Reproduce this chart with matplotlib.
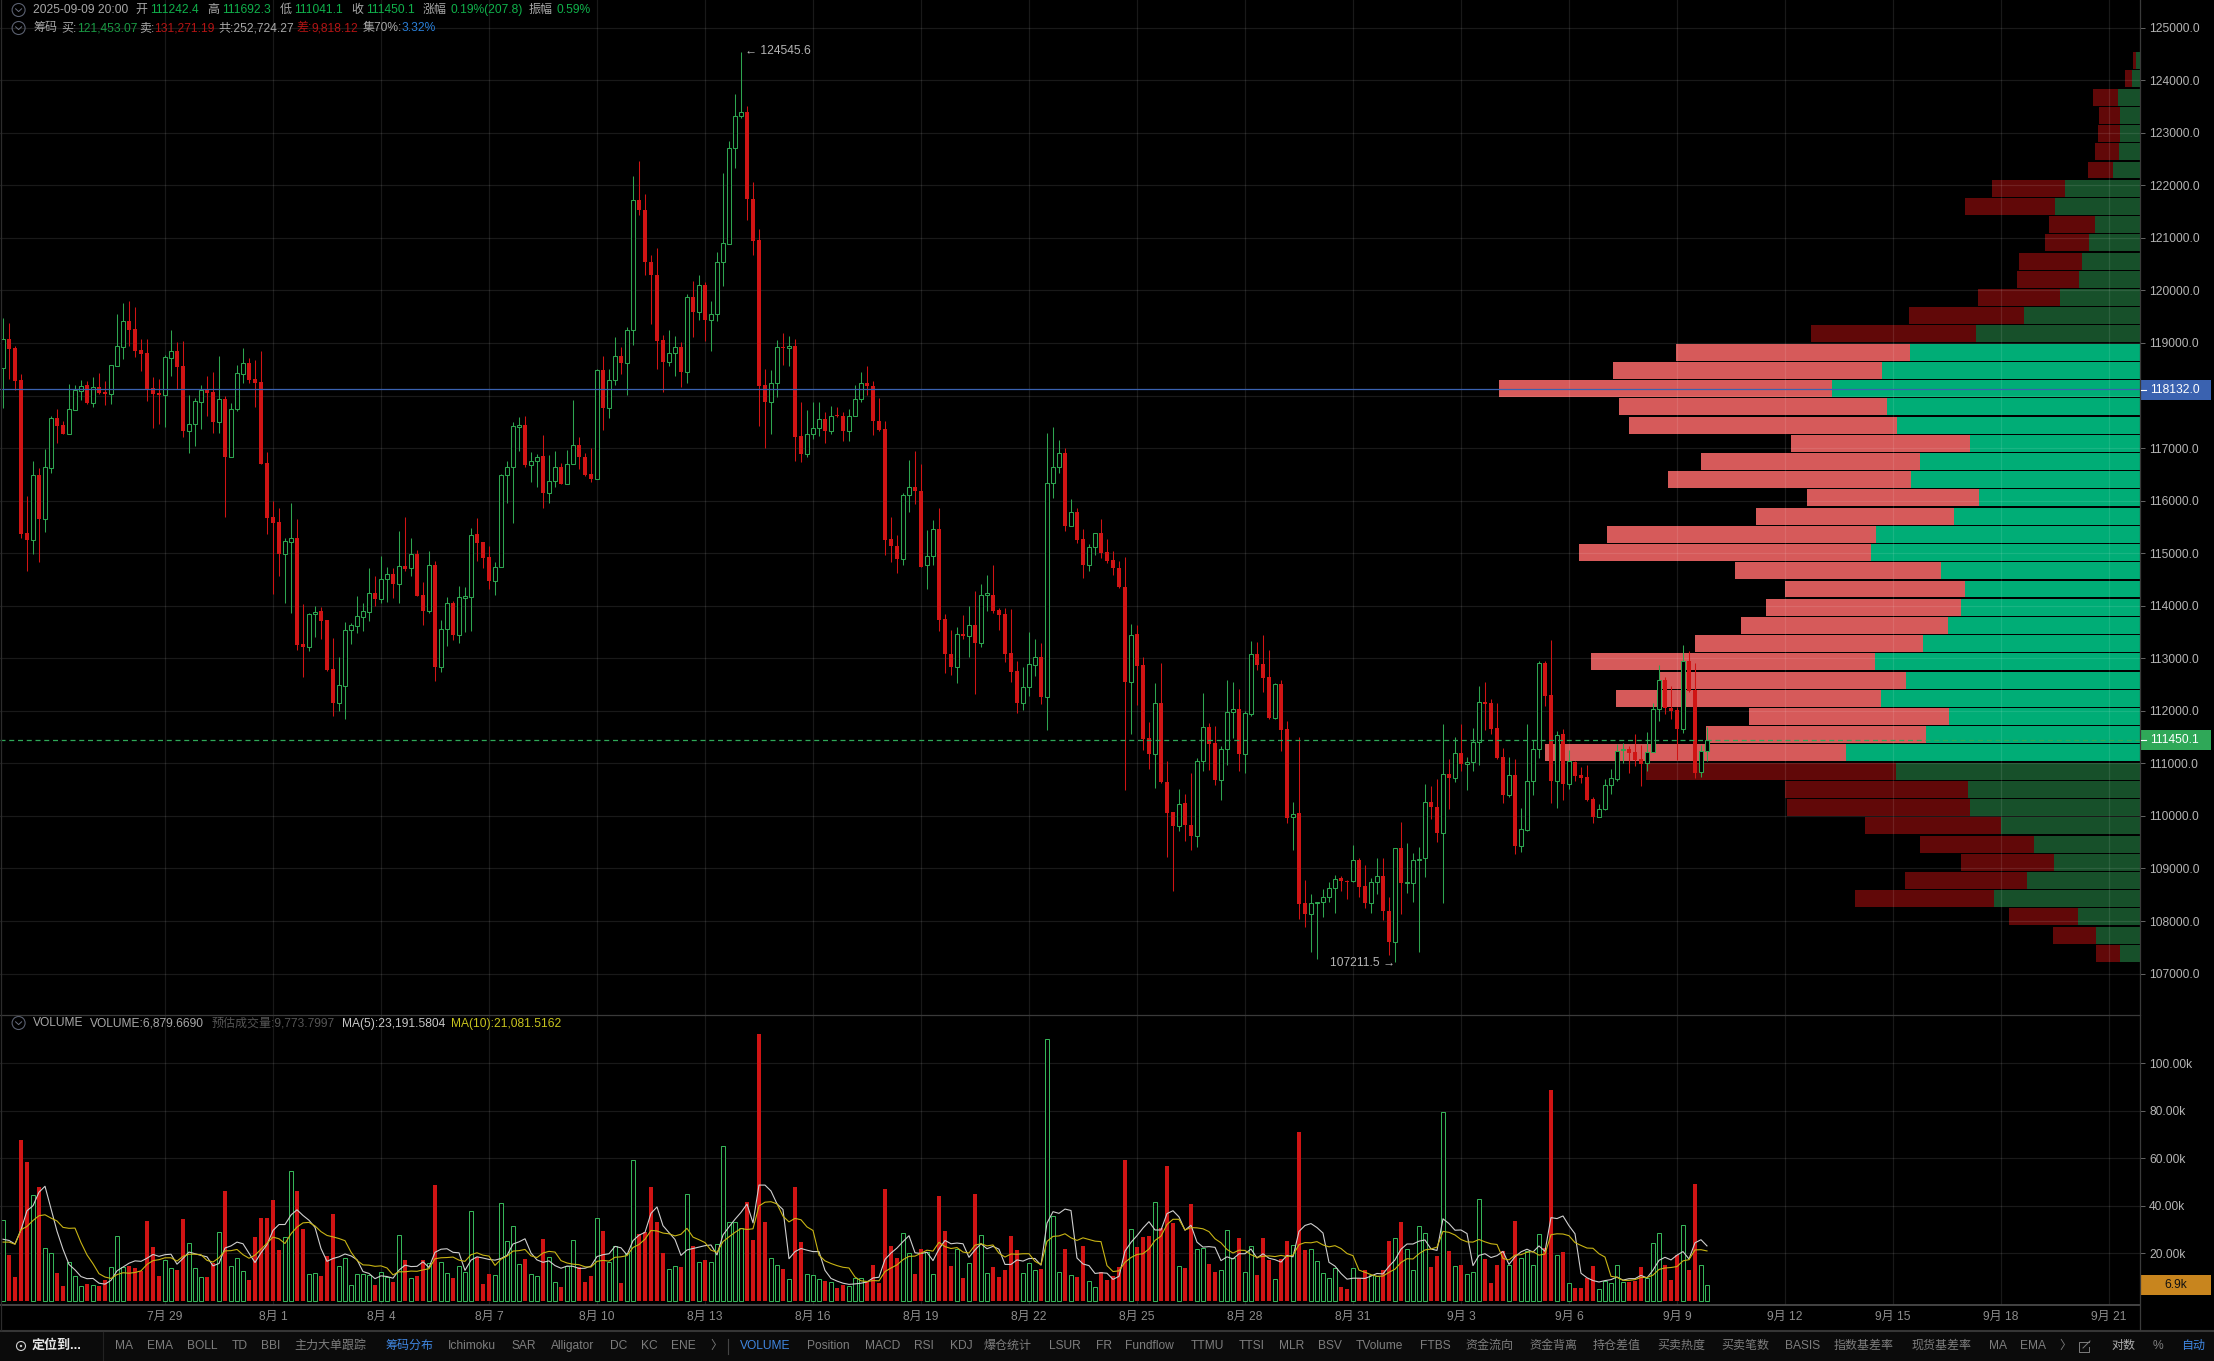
import numpy as np
import matplotlib
matplotlib.use("Agg")
import matplotlib.pyplot as plt
from matplotlib.patches import Rectangle, Circle

plt.rcParams['font.family'] = ['Liberation Sans', 'Noto Sans CJK SC', 'DejaVu Sans']
plt.rcParams['font.size'] = 8.64

direction = ("GRRRRGRGGRRGGGRGRRGG" "GRRRRRRGGRRGGGRRGRGG" "GRRRRRRGGRRGGRRRGGGG" "GGRGGRGRGRRGRGGRGGGR"
             "RRGGGGGRGGRGGRGGRRRG" "RGGRGGRRRRRGGRGRGRGG" "GGGGRRRRGGRGRRGGGRGR" "RGGGRRRRRRGGRRGGRRRG"
             "RGRGGRRRRRGGGRGGGRGR" "RGGRRRRRGRRRGRRRGRRG" "GRRGGGRGGRRRGRRGRRGG" "GGGRRGRRGGRRGRGGGGRR"
             "GRGRGGGRRRRGRGGGGRRG" "RGRRRRGGGGGRRRGGGRRR" "GRRGG")

high = [
119470,119375,118943,118410,116089,116755,116628,116983,117611,117738,
117516,118220,118201,118296,118277,118353,118429,118271,118582,119552,
119768,119806,119692,119083,119076,118353,118321,118765,119248,119019,
119045,118011,117947,118201,118372,118448,118753,117985,117858,118582,
118905,118721,118677,118848,116920,115987,115860,115283,115949,115651,
114034,113869,113996,113983,113729,113380,113019,113691,113672,114186,
114046,114719,114566,114953,114731,114712,115423,115683,115296,115061,
114459,115048,114852,113729,114167,114091,114376,114363,115480,115670,
115220,115144,114833,116500,116754,117497,117588,117604,116928,116886,
117249,116878,116944,116713,116961,117918,117208,116911,117010,118503,
118751,118503,119114,118924,119304,122175,122472,121836,120673,120805,
119155,119254,119130,119023,119939,120178,120285,120162,119807,120731,
122232,122843,123734,124545.6,123503,122059,121168,118512,118487,119048,
119188,119130,119081,117868,117728,117868,117868,117686,117802,117786,
117686,117744,118198,118446,118561,118281,117951,117513,115690,115352,
116136,116771,116944,116697,115443,115624,115863,113850,113537,113603,
113817,113990,114288,114420,114576,114783,113950,113965,113944,112945,
112843,113496,113360,113285,117283,117406,117147,116998,116025,115855,
115461,115175,115393,115651,115270,115039,114849,114924,113652,113632,
113033,111796,112537,112904,111054,110075,110510,110415,110823,111109,
112333,111768,111707,111326,112578,112557,112408,111993,113326,113312,
113441,113156,112523,112591,111802,110266,111503,108776,108511,108368,
108613,108736,108885,108851,108776,109443,109191,109069,108810,109191,
109191,108457,109382,109885,109484,109300,109416,110606,110572,110701,
111741,111082,111496,111741,111122,111673,112469,112550,112217,112149,
111285,111114,111082,110150,111742,111450,112953,112953,113346,111609,
111659,111254,111038,110930,110968,110366,110227,110702,110892,111361,
111380,111336,111558,111349,111590,112148,112877,112642,112465,112065,
113244,113137,112908,111349,111692.3]

body_top = [
119070,119070,118899,118296,115378,116482,116482,116634,117567,117567,
117433,117738,118106,118188,118195,118157,118157,118068,118575,118937,
119412,119412,119260,118867,118804,118144,118042,118727,118842,118842,
118556,117465,117890,118100,118100,118061,117928,117928,117751,118423,
118613,118613,118309,118252,116710,115683,115588,115226,115283,115283,
113272,113837,113888,113894,113723,112790,112486,113532,113628,113799,
113894,114237,114237,114503,114598,114598,114750,114757,114979,114979,
114199,114769,114769,113552,114046,114046,114160,114186,115353,115359,
115207,114922,114731,116482,116631,117414,117431,117439,116763,116837,
116845,116383,116631,116631,116705,117068,117068,116837,116498,118479,
118479,118305,118759,118759,119254,121713,121713,121539,120549,120285,
119048,118817,118932,118932,119881,119881,120096,120096,119543,120549,
120896,122719,123321,123404,123404,121746,120954,118198,118248,118916,
118932,118949,118949,117225,117274,117390,117546,117546,117620,117637,
117620,117620,117942,118248,118248,118190,117522,117357,115261,115146,
116103,116268,116268,116193,114939,115467,115467,113743,113083,113471,
113471,113628,113628,114213,114238,114213,113910,113842,113094,112754,
112462,112884,113033,113033,116331,116637,116902,116902,115780,115780,
115264,115114,115379,115379,115019,114862,114713,114366,113448,113455,
112863,111476,112142,112142,110653,110068,110232,110238,109837,111048,
111700,111700,111381,111265,111972,112027,112027,111952,113074,113074,
112884,112639,112503,112503,111646,110041,110048,108334,108334,108362,
108457,108634,108804,108810,108770,109171,109171,108661,108749,108865,
108865,108198,109382,109382,108736,109171,109184,110272,110272,110177,
110789,110789,111190,111190,111034,111401,112163,112163,112142,111666,
111114,110772,110778,109745,110670,111266,112902,112902,112293,111545,
111552,111038,111032,110778,110734,110315,110125,110582,110715,111241,
111266,111266,111209,111076,111222,112027,112579,112579,112052,112008,
112946,112946,112388,111241,111450.1]

body_bottom = [
118530,118890,118283,115365,115252,115258,115657,115657,116628,117427,
117275,117275,117732,118093,117852,117865,118055,118036,118036,118569,
118930,119248,118854,118797,118125,118036,118017,118017,118721,118550,
117332,117332,117465,117884,118055,117503,117503,116837,116837,117751,
118417,118302,118245,116704,115676,115581,114985,114985,115220,113260,
113215,113222,113837,113716,112784,112156,112156,112480,113532,113621,
113792,113888,114135,114135,114503,114421,114421,114706,114712,114192,
113907,113907,112841,112841,113552,113450,113450,114154,114173,115201,
114915,114471,114477,114741,116482,116631,117406,116680,116680,116754,
116144,116144,116383,116317,116317,116705,116837,116490,116408,116416,
117761,117761,118305,118627,118627,119254,121531,120541,120285,119040,
118635,118635,118817,118454,118454,119592,119592,119444,119444,119543,
120549,120888,122719,123313,121737,120945,118190,117876,117876,118248,
118908,118908,117216,116886,116886,117274,117381,117332,117324,117604,
117332,117332,117620,117942,118190,117522,117348,115253,115137,114898,
114898,116103,116185,114741,114766,114939,113735,113075,112827,112827,
113421,113430,113289,113298,114213,113908,113830,113088,112748,112156,
112156,112462,112877,112272,112272,116331,116637,115522,115522,115257,
114781,114781,115114,115005,114849,114713,114359,112557,112557,112856,
111469,111184,111184,110653,110062,109810,109810,109824,109620,109620,
111048,111374,110687,110687,111265,111972,111184,111184,111945,112877,
112632,111857,111857,111639,109966,109973,108328,108137,108137,108334,
108362,108457,108634,108763,108749,108756,108654,108341,108348,108749,
108192,107607,107607,108715,108715,108729,109164,109191,110177,109681,
109681,110728,110728,110993,110993,111034,111401,112136,111660,111109,
110404,110404,109434,109434,109738,110670,111266,112287,110670,110670,
110613,110613,110765,110721,110309,109986,109986,110125,110582,110708,
111254,111203,111070,110994,111000,111222,112027,112046,112002,111659,
111659,112376,110822,110829,111242.4]

low = [
117770,118310,118106,115283,114662,114985,114839,115410,116520,117104,
117269,117270,117725,117916,117840,117789,118036,117820,117840,118563,
118702,118943,118734,118467,117903,117389,117459,117402,118372,118118,
117211,116913,117040,117357,117611,117287,117294,115695,116831,117706,
118233,118245,117782,116691,115366,114230,114566,114046,113869,113158,
112651,113139,113399,113361,112765,111902,111998,111839,113279,113482,
113526,113716,114002,114046,114078,114154,114059,114668,114573,114186,
113640,113869,112575,112746,113235,113349,113298,113507,113514,114858,
114725,114325,114205,114730,115954,115566,116944,116639,116350,116268,
115863,115954,116259,116309,116309,116697,116606,116465,116350,116408,
117348,117579,118198,118413,118017,118957,121440,120285,119361,118503,
118058,118561,118380,118165,118248,119122,119436,119040,118842,119419,
120079,120879,122331,123280,121341,120673,117422,117010,117266,117967,
118578,118561,116763,116738,116837,117175,117233,117093,117274,117588,
117142,117134,117620,117876,118017,117258,117332,114964,114824,114618,
114783,115789,115938,114733,114320,114766,113520,112728,112679,112522,
113372,113025,112316,113215,113908,113859,113545,112938,112557,111952,
112013,112278,112659,112136,111639,116059,116528,115427,115515,115202,
114522,114665,114964,114910,114822,114584,114339,110490,111564,112108,
111252,110898,110538,110619,109225,108566,109715,109531,109354,109416,
110857,110871,110585,110306,110966,111490,110857,110823,111898,112782,
112353,111850,111843,111245,109858,109361,108035,107879,107416,107287,
108069,108362,108158,108566,108416,108749,108457,108253,108158,108511,
108015,107355,107211.5,108137,108525,108355,107410,108844,109939,109511,
108341,110123,110653,110850,110497,110857,110973,111639,111564,111088,
110246,110366,109276,109320,109707,110404,111095,112084,110246,110157,
110309,110512,110658,110626,110290,109859,109979,110119,110417,110670,
111006,110822,110956,110575,110854,111216,111805,111932,111850,111063,
111577,112350,110727,110746,111041.1]

volume_k = [
34,19.4,10.1,67.6,58.7,44.6,48.2,22.4,20.1,11.8,
6.3,16.6,10.6,6.3,7.2,6.8,6.5,8.9,14.2,27.3,
14.5,14.8,13.9,12.8,33.8,22.8,10.6,17.3,13.8,13.1,
34.6,24.4,13.8,10,10.1,15.9,29,46.3,14.6,18,
12.5,8.9,26.9,35.1,35.1,42.5,21.5,26.9,54.8,46.3,
30.4,11.4,12,10.6,19,36.6,14.6,18,6.6,11.3,
11.3,11,6.8,12.4,9.9,8,27.7,17.3,9.6,10.6,
17.3,15.9,49,16.3,11.7,9.7,14.6,12.1,37.9,18.7,
7.2,11.4,10.8,41.3,25.2,31.5,15.5,17.7,11.3,10.6,
26.2,18.5,7.9,5.9,14.9,25.8,14.2,8,10.6,34.9,
29.6,16.6,23.2,7.6,20.1,59.4,28.2,29,48,33.4,
20.1,13.4,14.6,14.4,45.1,23.2,16.3,17.3,16.3,23.9,
65.4,33.2,33.2,30.6,41.8,25.8,112.4,33.4,18,15.1,
13.5,9.2,48,24.9,11.3,10.8,9.2,8.5,7.9,5.5,
6.6,6.3,9.6,9.6,8,15.2,7.5,47.3,23.2,18.2,
28.6,20.1,11.4,21.8,20.6,11.3,44.4,29.6,14.8,22.1,
9.7,15.9,45.2,27.7,11.7,14.4,10.1,13.1,27.5,21.5,
11.7,15.9,13,13.5,110.1,35.6,12.1,22,10.8,10.1,
23.2,8.3,5.8,12.1,8.9,10.6,14.4,59.2,30.3,22.8,
27,27.5,41.7,30.7,57,33,14.6,13.9,40.8,21.8,
22.4,15.6,12.3,13,29.9,17.9,26.6,12.1,23,11,
26.6,17.3,9.2,17.7,25.4,23.4,71,21.5,21.8,16.8,
11.7,9.6,13.8,5.9,5.1,13.8,9.6,13,11,10.6,
13,25.4,26.5,33.4,21.8,13,31.5,28.6,14.4,19,
79.7,21.1,14.6,15.2,11.3,12.1,43,17.7,7.6,15.2,
21.1,15.2,33.8,18,21,15.1,28.2,22.3,88.7,19.3,
20.7,7.5,5.5,5.5,9.7,14.6,4.9,8.5,7.5,15.1,
7.9,8,8.5,14.4,9.6,24.4,28.6,15.2,8.9,19.2,
32,13.1,49.4,15.1,6.88]

ma5_k = [
26,25.5,24,30,38,40.1,45.8,48.3,38.8,29.4,
21.8,15.4,13.1,10.3,9.4,9.5,7.5,7.1,8.7,12.7,
14.3,15.9,16.9,16.7,18,19.6,18.8,19.5,19.7,15.5,
17.9,20.6,19.9,19.2,18.6,14.8,15.8,22.3,23.2,24.8,
24.1,20.1,16.2,20.3,23.7,29.7,32.2,32.2,36.2,38.4,
36,34,31,22.1,16.7,17.9,18.6,19.8,19,17.4,
12.4,11.6,9.4,10.6,10.3,9.6,13,15.1,14.5,14.6,
16.5,14.1,20.5,21.8,22,20.5,20.3,12.9,17.2,18.6,
18.1,17.5,17.2,17.9,19.2,24,24.9,26.2,20.2,17.3,
16.3,16.9,14.9,13.8,14.7,14.6,13.7,13.8,14.7,18.7,
19.5,19.9,23,22.4,19.4,25.4,27.7,28.9,36.9,39.6,
31.7,28.8,25.9,19.2,21.5,22.1,22.7,23.3,23.6,19.4,
27.8,31.2,34.4,37.3,40.8,32.9,48.8,48.8,46.3,40.9,
38.5,17.8,20.8,22.1,21.4,20.8,20.8,12.9,9.5,8.4,
7.5,7,7.2,7.5,8,9.7,10,17.5,20.2,22.3,
25,27.5,20.3,20,20.5,17,21.9,25.5,24.1,24.4,
24.1,18.4,21.5,24.1,22,23,21.8,15.4,15.4,17.3,
16.8,17.9,17.9,15.1,32.8,37.6,36.9,38.7,38.1,18.1,
15.6,14.9,11.6,11.9,11.7,9.1,10.4,21,24.7,27.5,
30.7,33.4,29.9,29.9,36.8,38,35.4,29.8,31.9,24.8,
22.7,22.9,22.6,17,18.6,17.7,19.9,19.9,21.9,18.1,
19.9,18,17.4,16.4,19.2,18.6,29.3,31.8,32.6,30.9,
28.6,16.3,14.7,11.6,9.2,9.6,9.6,9.5,10.5,11.6,
11.4,14.6,17.3,21.8,24,24,25.2,25.7,21.9,21.3,
34.6,32.6,29.8,29.9,28.4,14.9,19.2,19.9,18.3,19.1,
20.9,15.4,18.6,20.7,21.8,20.6,23.2,20.9,35.1,34.7,
35.8,31.7,28.3,11.7,9.8,8.6,8,8.6,9,10.1,
8.8,9.4,9.4,10.8,9.7,13,17.1,18.4,17.3,19.3,
20.8,17.7,24.5,25.8,23.19]

ma10_k = [
24.8,24.8,23.9,30,31.4,33.9,35.9,36.3,34.9,33.7,
31,30.6,30.7,24.6,19.4,15.7,11.5,10.1,9.5,11.1,
11.9,11.7,12,12.7,15.4,17,17.4,18.2,18.2,16.8,
18.8,19.7,19.7,19.5,17.1,16.4,18.2,21.1,21.2,21.7,
19.5,18,19.3,21.8,24.3,26.9,26.2,24.2,28.3,31.1,
32.9,33.1,31.6,29.2,27.6,27,26.3,25.4,20.6,17.1,
15.2,15.1,14.6,14.8,13.9,11,12.3,12.3,12.6,12.5,
13.1,13.6,17.8,18.2,18.3,18.5,17.2,16.7,19.5,20.3,
19.3,18.9,15,17.6,18.9,21,21.2,21.7,19,18.3,
20.2,20.9,20.6,17,16,15.5,15.3,14.4,14.3,16.7,
17.1,16.8,18.4,18.6,19.1,22.5,23.8,26,29.7,29.5,
28.6,28.3,27.4,28.1,30.6,26.9,25.8,24.6,21.4,20.5,
25,27,28.9,30.5,30.1,30.4,40,41.6,41.8,40.9,
35.7,33.3,34.8,34.2,31.2,29.7,19.3,16.9,15.8,14.9,
14.2,13.9,10.1,8.5,8.2,8.6,8.5,12.4,13.9,15.2,
17.4,18.8,18.9,20.1,21.4,21,24.7,22.9,22.1,22.5,
20.6,20.2,23.5,24.1,23.2,23.6,20.1,18.5,19.8,19.7,
19.9,19.9,16.7,15.3,25.1,27.2,27.4,28.3,26.6,25.5,
26.6,25.9,25.2,25,14.9,12.4,12.7,16.3,18.3,19.6,
19.9,21.9,25.5,27.3,32.2,34.4,34.4,29.9,30.9,30.8,
30.4,29.2,26.2,24.5,21.7,20.2,21.4,21.3,19.5,18.4,
18.8,19,18.7,19.2,18.7,19.3,23.7,24.6,24.5,25,
23.6,22.8,23.3,22.1,20,19.1,13,12.1,11.1,10.4,
10.5,12.1,13.4,16.2,17.8,17.7,19.9,21.5,21.9,22.7,
29.3,28.9,27.8,25.9,24.9,24.8,25.9,24.9,24.1,23.8,
17.9,17.3,19.3,19.5,20.5,20.8,19.3,19.8,27.9,28.3,
28.2,27.5,24.6,23.4,22.3,22.2,19.9,18.5,10.4,10,
8.7,8.7,9,9.9,9.9,10.9,13.3,13.9,14.1,14.5,
16.9,17.4,21.5,21.6,21.08]

# chip distribution, top row to bottom row
chip_sell = [47,118,416,353,369,400,416,1225,1507,769,738,1060,1044,1374,1931,2771,
             3925,4514,5574,4490,4498,3007,3682,4074,2889,3321,4522,4898,3454,3022,3266,3462,3831,4757,4129,4443,3344,3690,5055,
             4192,3069,3069,2292,1908,1554,2049,2331,1154,722,400]
chip_buy = [71,133,369,338,338,353,455,1256,1429,754,856,973,1021,1342,1947,2748,
            3854,4325,5173,4247,4074,2850,3682,3839,2693,3116,4420,4514,3336,2928,3007,3226,3635,4451,3917,4341,3211,3587,4922,
            4090,2889,2850,2324,1782,1444,1892,2449,1044,738,338]
chip_top, chip_bottom = 124545.6, 107211.5
chip_bright_rows = (16, 38)

last_price, high_price = 111450.1, 118132.0
price_ticks = list(range(107000, 125001, 1000))
volume_ticks = [20, 40, 60, 80, 100]
date_tick_pos = list(range(27, 352, 18))
date_tick_lab = ["7月 29","8月 1","8月 4","8月 7","8月 10","8月 13","8月 16","8月 19","8月 22","8月 25",
                 "8月 28","8月 31","9月 3","9月 6","9月 9","9月 12","9月 15","9月 18","9月 21"]

W, H = 2214, 1361
GREEN, RED = '#2ea550', '#d01414'
VGREEN = '#35b558'
GRID = '#ffffff'
GRID_ALPHA = 0.10
LAB = '#b4b4b4'

fig = plt.figure(figsize=(W/100, H/100), dpi=100, facecolor='black')
def box(x0, y0, x1, y1):
    return [x0/W, 1-y1/H, (x1-x0)/W, (y1-y0)/H]

XLIM = (-0.5, 356.17)
PRICE_LIM = (106212, 125527)

n = len(high)
x = np.arange(n)
dirs = np.array(list(direction))
up = dirs == 'G'
hi, lo, bt, bb = map(np.array, (high, low, body_top, body_bottom))
vol = np.array(volume_k)

# chip profile (below the candles)
pax = fig.add_axes(box(0, 0, 2140, 1015), zorder=1)
pax.set_facecolor('black')
pax.set_ylim(*PRICE_LIM)
pax.set_xlim(2140*16.77, 0)
pax.axis('off')
rows = len(chip_buy)
step = (chip_top-chip_bottom)/rows
centers = chip_top - step*(np.arange(rows)+0.5)
bright = (np.arange(rows) >= chip_bright_rows[0]) & (np.arange(rows) <= chip_bright_rows[1])
gc = np.where(bright, '#00ad76', '#17502a')
rc = np.where(bright, '#d65a5a', '#610808')
pax.barh(centers, chip_buy, height=step*0.93, color=gc, linewidth=0)
pax.barh(centers, chip_sell, left=chip_buy, height=step*0.93, color=rc, linewidth=0)

# candles
ax = fig.add_axes(box(0, 0, 2140, 1015), zorder=2)
ax.patch.set_alpha(0)
ax.set_xlim(*XLIM)
ax.set_ylim(*PRICE_LIM)
ax.vlines(x[up], bt[up], hi[up], color=GREEN, lw=0.75, zorder=3)
ax.vlines(x[up], lo[up], bb[up], color=GREEN, lw=0.75, zorder=3)
ax.vlines(x[~up], lo[~up], hi[~up], color=RED, lw=0.75, zorder=3)
ax.bar(x[up], (bt-bb)[up], bottom=bb[up], width=0.55, facecolor='black', edgecolor=GREEN, linewidth=0.75, zorder=4)
ax.bar(x[~up], (bt-bb)[~up], bottom=bb[~up], width=0.68, color=RED, linewidth=0, zorder=4)
ax.axhline(high_price, color='#3a62b0', lw=0.9, zorder=5)
ax.axhline(last_price, color='#2fa858', lw=0.9, ls=(0, (4, 3)), zorder=5)

ax.set_yticks(price_ticks)
ax.set_yticklabels([f"{p:.1f}" for p in price_ticks])
ax.set_xticks(date_tick_pos)
ax.tick_params(axis='x', length=0, labelbottom=False)
ax.yaxis.tick_right()
ax.tick_params(axis='y', length=3.6, width=0.7, color='#666666', labelcolor=LAB, pad=3)
ax.grid(True, color=GRID, alpha=GRID_ALPHA, lw=0.9)
ax.set_axisbelow(True)
for s in ax.spines.values():
    s.set_visible(False)

# volume pane
vax = fig.add_axes(box(0, 1015, 2140, 1305), zorder=2, facecolor='black')
vax.set_xlim(*XLIM)
vax.set_ylim(-1.68, 120.4)
vax.bar(x[up], vol[up], width=0.58, facecolor='black', edgecolor=VGREEN, linewidth=0.72, zorder=3)
vax.bar(x[~up], vol[~up], width=0.66, color=RED, linewidth=0, zorder=3)
vax.plot(x, ma5_k, color='#cfcfcf', lw=0.8, zorder=4)
vax.plot(x, ma10_k, color='#c8b414', lw=0.8, zorder=4)
vax.set_yticks(volume_ticks)
vax.set_yticklabels([f"{v:.2f}k" for v in volume_ticks])
vax.set_xticks(date_tick_pos)
vax.set_xticklabels(date_tick_lab)
vax.yaxis.tick_right()
vax.tick_params(axis='y', length=3.6, width=0.7, color='#666666', labelcolor=LAB, pad=3)
vax.tick_params(axis='x', length=0, labelcolor='#8c8c8c', pad=4)
vax.grid(True, color=GRID, alpha=GRID_ALPHA, lw=0.9)
vax.set_axisbelow(True)
for s in vax.spines.values():
    s.set_visible(False)

# chrome overlay in pixel space
ui = fig.add_axes([0, 0, 1, 1], zorder=6)
ui.set_xlim(0, W); ui.set_ylim(H, 0); ui.axis('off'); ui.patch.set_alpha(0)
ui.add_patch(Rectangle((0, 1331), W, 30, color='#0b0b0b', lw=0))
ui.plot([0, W], [1330.5, 1330.5], color='#363636', lw=1.5)
ui.plot([0, 2140], [1015, 1015], color='#3a3a3a', lw=0.9)
ui.plot([0, 2140], [1305, 1305], color='#4a4a4a', lw=1.3)
ui.plot([2140, 2140], [0, 1330], color='#3a3a3a', lw=0.9)
ui.plot([0.7, 0.7], [0, 1330], color='#2c2c2c', lw=0.9)
ui.plot([103, 103], [1332, 1360], color='#222222', lw=0.8)
ui.plot([728, 728], [1339, 1354], color='#444444', lw=0.8)

def T(px, py, s, c='#a8a8a8', **kw):
    kw.setdefault('va', 'center'); kw.setdefault('ha', 'left')
    ui.text(px, py, s, color=c, **kw)

def icon(px, py):
    ui.add_patch(Circle((px, py), 6.5, fill=False, ec='#5a6070', lw=0.8))
    ui.plot([px-3, px, px+3], [py-1.2, py+1.6, py-1.2], color='#6a7080', lw=0.7)

# header row 1
G1, R1, GR = '#10b14b', '#c81414', '#a8a8a8'
icon(18.6, 10); icon(18.6, 28); icon(18.6, 1023)
for px, s, c in [(33,"2025-09-09 20:00",GR),(135.6,"开",GR),(150,"111242.4",G1),(207,"高",GR),(222.6,"111692.3",G1),
                 (280,"低",GR),(294,"111041.1",G1),(351.6,"收",GR),(366.5,"111450.1",G1),(423,"涨幅",GR),
                 (450.7,"0.19%(207.8)",G1),(529,"振幅",GR),(556.4,"0.59%",G1)]:
    T(px, 10, s, c)
for px, s, c in [(33,"筹码",GR),(61,"买:",GR),(76.7,"121,453.07",'#1a9a44'),(139,"卖:",GR),(154.6,"131,271.19",'#b41414'),
                 (218,"共:252,724.27",GR),(296.4,"差:",'#b41414'),(311.8,"9,818.12",'#b41414'),(362.8,"集70%:",GR),
                 (401.3,"3.32%",'#2a7fd8')]:
    T(px, 28, s, c)
for px, s, c in [(33,"VOLUME",GR),(90.4,"VOLUME:6,879.6690",GR),(211.4,"预估成交量:9,773.7997",'#555555'),
                 (341.6,"MA(5):23,191.5804",'#c8c8c8'),(451,"MA(10):21,081.5162",'#c8c41e')]:
    T(px, 1023.5, s, c)

# hi/lo annotations
T(745, 51, "← 124545.6", LAB)
T(1330, 963, "107211.5 →", LAB)

# price tags
for (y0, c, s) in [(379.5, '#3a62b0', "118132.0"), (730, '#2fa858', "111450.1")]:
    ui.add_patch(Rectangle((2140, y0), 71, 20, color=c, lw=0))
    ui.plot([2141, 2146], [y0+10, y0+10], color='white', lw=0.8)
    T(2150, y0+10, s, 'white')
ui.add_patch(Rectangle((2140, 1275), 71, 20, color='#c8851e', lw=0))
T(2175.5, 1285, "6.9k", '#111111', ha='center')

# toolbar
ui.add_patch(Circle((21, 1346), 4.5, fill=False, ec='#d0d0d0', lw=0.8))
ui.add_patch(Circle((21, 1346), 1.2, color='#d0d0d0', lw=0))
T(32, 1346, "定位到...", '#e6e6e6', fontweight='bold', fontsize=9.4)
TB = '#7d7d7d'; BL = '#3f86e0'
for px, s, c in [(115,"MA",TB),(146.5,"EMA",TB),(187,"BOLL",TB),(232,"TD",TB),(261,"BBI",TB),(294,"主力大单跟踪",TB),
                 (385,"筹码分布",BL),(448,"Ichimoku",TB),(512,"SAR",TB),(551,"Alligator",TB),(610,"DC",TB),(641,"KC",TB),
                 (671,"ENE",TB),(710,"〉",TB),(740,"VOLUME",BL),(807,"Position",TB),(865,"MACD",TB),(914,"RSI",TB),
                 (950,"KDJ",TB),(984,"爆仓统计",TB),(1049,"LSUR",TB),(1096,"FR",TB),(1125,"Fundflow",TB),(1191,"TTMU",TB),
                 (1238.5,"TTSI",TB),(1279,"MLR",TB),(1318,"BSV",TB),(1356,"TVolume",TB),(1420,"FTBS",TB),(1465,"资金流向",TB),
                 (1529,"资金背离",TB),(1593,"持仓差值",TB),(1657,"买卖热度",TB),(1721,"买卖笔数",TB),(1785,"BASIS",TB),
                 (1834,"指数基差率",TB),(1911,"现货基差率",TB),(1989,"MA",TB),(2020,"EMA",TB),(2059,"〉",TB),
                 (2111,"对数",'#b0b0b0'),(2153,"%",TB),(2181,"自动",BL)]:
    T(px, 1346, s, c)
ui.plot([2089, 2079, 2079, 2089, 2089], [1342, 1342, 1352, 1352, 1347], color=TB, lw=0.7)
ui.plot([2083, 2090], [1348, 1341], color=TB, lw=0.7)

fig.savefig('out.png', dpi=100, facecolor='black')
